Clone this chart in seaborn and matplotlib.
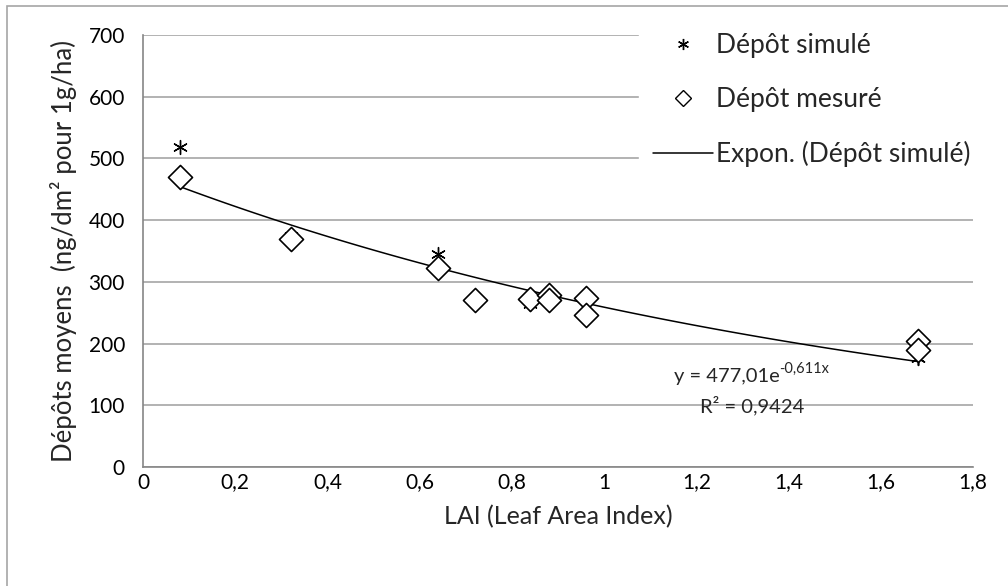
import numpy as np
import pandas as pd
import matplotlib.pyplot as plt
import seaborn as sns
from matplotlib.lines import Line2D
from matplotlib.patches import Rectangle

# LAI values and mean deposits (ng/dm² for 1 g/ha)
lai = [0.08, 0.32, 0.64, 0.72, 0.84, 0.88, 0.88, 0.96, 0.96, 1.68, 1.68]
simule = [518, 375, 345, 268, 264, 276, 270, 272, 248, 176, 176]
mesure = [470, 370, 323, 270, 272, 278, 270, 274, 247, 204, 189]

# exponential trend shown on the chart: y = 477.01 e^(-0.611x)
fit_a = 477.01
fit_b = -0.611

x_ticks = [0, 0.2, 0.4, 0.6, 0.8, 1, 1.2, 1.4, 1.6, 1.8]
x_labels = ['0', '0,2', '0,4', '0,6', '0,8', '1', '1,2', '1,4', '1,6', '1,8']
y_ticks = [0, 100, 200, 300, 400, 500, 600, 700]

df = pd.DataFrame({'LAI': lai, 'simule': simule, 'mesure': mesure})
x_fit = np.linspace(min(lai), max(lai), 100)
df_fit = pd.DataFrame({'LAI': x_fit, 'fit': fit_a * np.exp(fit_b * x_fit)})

sns.set_style('white')
plt.rcParams['font.family'] = ['Lato', 'DejaVu Sans']

fig = plt.figure(figsize=(10.08, 5.86), dpi=100)
ax = fig.add_axes([0.1419, 0.2031, 0.8234, 0.7372])

# outer chart border (only left/top visible in the crop)
fig.patches.append(Rectangle((0.007, -0.1), 1.2, 1.089, transform=fig.transFigure,
                             fill=False, edgecolor='#a6a6a6', linewidth=1.2))

sns.scatterplot(data=df, x='LAI', y='simule', marker=(6, 2, 0), s=100,
                color='black', linewidth=1.0, ax=ax, zorder=3, legend=False)
sns.lineplot(data=df_fit, x='LAI', y='fit', color='black', linewidth=1.1,
             ax=ax, zorder=4, legend=False)
sns.scatterplot(data=df, x='LAI', y='mesure', marker='D', s=150,
                facecolor='white', edgecolor='black', linewidth=1.2,
                ax=ax, zorder=5, legend=False)

ax.set_xlim(0, 1.8)
ax.set_ylim(0, 700)
ax.set_xticks(x_ticks)
ax.set_xticklabels(x_labels)
ax.set_yticks(y_ticks)
ax.grid(axis='y', color='#a6a6a6', linewidth=1.2)
ax.set_axisbelow(True)
for side in ['top', 'right']:
    ax.spines[side].set_visible(False)
for side in ['left', 'bottom']:
    ax.spines[side].set_color('#868686')
    ax.spines[side].set_linewidth(1.2)
ax.tick_params(axis='both', which='both', direction='out', length=5, width=1.2,
               color='#868686', labelsize=15, labelcolor='black', pad=-1)
ax.tick_params(axis='y', pad=8)

ax.set_xlabel('LAI (Leaf Area Index)', fontsize=18, labelpad=9)
ax.set_ylabel('Dépôts moyens  (ng/dm² pour 1g/ha)', fontsize=18.5, labelpad=8)

t1 = ax.text(1.38, 146, 'y = 477,01e', ha='right', va='center', fontsize=14.5)
ax.annotate('-0,611x', xy=(1.0, 0.55), xycoords=t1, ha='left', va='bottom', fontsize=10.5)
ax.text(1.32, 99, 'R² = 0,9424', ha='center', va='center', fontsize=14.5)

handles = [
    Line2D([], [], linestyle='none', marker=(6, 2, 0), markersize=8, color='black', markeredgewidth=1.0),
    Line2D([], [], linestyle='none', marker='D', markersize=8, markerfacecolor='white',
           markeredgecolor='black', markeredgewidth=1.0),
    Line2D([], [], color='black', linewidth=1.1),
]
leg = ax.legend(handles, ['Dépôt simulé', 'Dépôt mesuré', 'Expon. (Dépôt simulé)'],
                loc='upper left', bbox_to_anchor=(0.598, 1.035), frameon=True,
                fontsize=19, labelspacing=1.1, handlelength=2.3, handletextpad=0.1,
                borderpad=0.5, borderaxespad=0)
leg.get_frame().set_edgecolor('white')
leg.get_frame().set_facecolor('white')
leg.get_frame().set_alpha(1)
leg.set_zorder(10)

fig.savefig('out.png', dpi=100)
